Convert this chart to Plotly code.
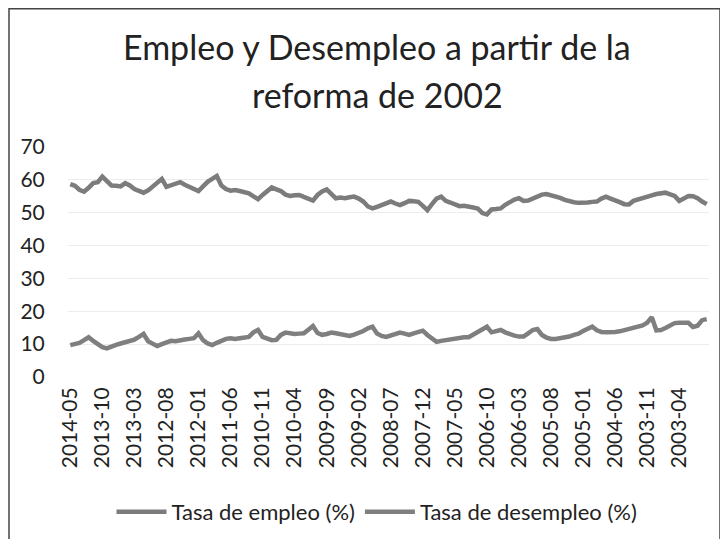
import pandas as pd
import plotly.graph_objects as go

# Monthly categories, newest first (2014-05 back to 2002-10)
months = pd.period_range("2002-10", "2014-05", freq="M")[::-1]
categories = [str(p) for p in months]

tasa_empleo = [
    58.7, 58.2, 57.0, 56.4, 57.6, 59.0, 59.3, 61.0, 59.6, 58.3,
    58.2, 58.0, 59.0, 58.3, 57.2, 56.6, 56.1, 56.8, 57.9, 59.2,
    60.3, 57.9, 58.4, 58.8, 59.3, 58.5, 57.9, 57.3, 56.6, 58.0,
    59.4, 60.3, 61.2, 58.3, 57.2, 56.7, 56.9, 56.6, 56.2, 55.9,
    55.0, 54.1, 55.4, 56.7, 57.7, 57.1, 56.6, 55.5, 55.1, 55.3,
    55.4, 54.8, 54.3, 53.7, 55.4, 56.5, 57.1, 55.5, 54.4, 54.6,
    54.4, 54.7, 54.9, 54.3, 53.4, 51.9, 51.3, 51.8, 52.3, 52.9,
    53.4, 52.8, 52.3, 52.9, 53.6, 53.5, 53.3, 52.1, 50.8, 52.6,
    54.3, 54.9, 53.6, 53.1, 52.5, 52.0, 52.1, 52.0, 51.6, 51.3,
    49.9, 49.5, 51.0, 51.1, 51.3, 52.4, 53.4, 54.0, 54.4, 53.6,
    53.7, 54.4, 54.9, 55.5, 55.7, 55.4, 55.0, 54.5, 53.9, 53.4,
    53.2, 53.0, 52.9, 53.1, 53.3, 53.4, 54.3, 54.9, 54.3, 53.9,
    53.2, 52.6, 52.5, 53.6, 54.1, 54.4, 54.9, 55.3, 55.7, 56.0,
    56.1, 55.6, 55.1, 53.6, 54.2, 55.1, 55.0, 54.4, 53.4, 52.6,
]

tasa_desempleo = [
    9.7, 10.0, 10.4, 11.2, 12.1, 11.0, 10.0, 9.1, 8.7, 9.4,
    9.8, 10.2, 10.5, 11.0, 11.4, 12.2, 13.1, 10.9, 10.0, 9.4,
    10.0, 10.6, 11.0, 10.9, 11.3, 11.4, 11.6, 11.8, 13.3, 11.2,
    10.2, 9.7, 10.4, 11.0, 11.6, 11.8, 11.6, 11.8, 11.9, 12.2,
    13.6, 14.3, 12.2, 11.6, 11.2, 11.3, 12.8, 13.5, 13.2, 13.1,
    13.2, 13.3, 14.4, 15.5, 13.4, 12.8, 13.1, 13.5, 13.3, 13.1,
    12.8, 12.5, 12.9, 13.4, 14.0, 14.8, 15.3, 13.2, 12.5, 12.2,
    12.7, 13.1, 13.5, 13.2, 12.8, 13.3, 13.7, 14.1, 12.8, 11.8,
    10.7, 11.0, 11.2, 11.4, 11.8, 12.1, 12.1, 12.1, 12.9, 13.8,
    14.7, 15.3, 13.6, 13.9, 14.3, 13.6, 13.0, 12.6, 12.3, 12.3,
    13.3, 14.3, 14.6, 12.8, 12.0, 11.6, 11.6, 11.8, 11.9, 12.3,
    12.8, 13.2, 14.0, 14.8, 15.3, 14.2, 13.7, 13.6, 13.5, 13.7,
    13.9, 14.2, 14.6, 15.1, 15.4, 15.7, 16.5, 18.2, 14.2, 14.3,
    14.9, 15.6, 16.4, 16.5, 16.4, 16.5, 15.2, 15.6, 17.3, 17.6,
]

tick_labels = categories[::7]
y_ticks = [0, 10, 20, 30, 40, 50, 60, 70]

FONT = "Lato, 'Open Sans', sans-serif"
OFF = 8  # page body margin of the html page
W, H = 728 - OFF, 539 - OFF
# plot area in screen pixels, converted to figure pixels
L, R, T, B = 68 - OFF, 709 - OFF, 147 - OFF, 377 - OFF
pw, ph = R - L, B - T

def px(x):
    return (x - OFF - L) / pw

def py(y):
    return (B - (y - OFF)) / ph

fig = go.Figure()
fig.add_trace(go.Scatter(
    x=categories, y=tasa_empleo, mode="lines", name="Tasa de empleo (%)",
    line=dict(color="#7c7c7c", width=4.5),
))
fig.add_trace(go.Scatter(
    x=categories, y=tasa_desempleo, mode="lines", name="Tasa de desempleo (%)",
    line=dict(color="#7f7f7f", width=4.5),
))

fig.update_layout(
    width=W, height=H,
    margin=dict(l=L, r=W - R, t=T, b=H - B, autoexpand=False),
    paper_bgcolor="white", plot_bgcolor="white",
    font=dict(family=FONT, color="#222222"),
    showlegend=True,
    legend=dict(
        orientation="h", x=px(377), xanchor="center", y=py(491), yanchor="top",
        font=dict(size=22, family=FONT, color="#222222"),
        itemwidth=50, bgcolor="rgba(0,0,0,0)",
    ),
    xaxis=dict(
        type="category", range=[-0.5, len(categories) - 0.5],
        tickmode="array", tickvals=tick_labels, ticktext=tick_labels,
        tickangle=-90, tickfont=dict(size=21, family=FONT, color="#222222"),
        showgrid=False, zeroline=False, showline=False, automargin=False,
        ticks="outside", ticklen=1, tickcolor="rgba(0,0,0,0)",
    ),
    yaxis=dict(
        range=[0, 70], tickmode="array", tickvals=y_ticks,
        tickfont=dict(size=21, family=FONT, color="#222222"),
        showgrid=True, gridcolor="#ececec", gridwidth=1,
        zeroline=False, showline=False, automargin=False,
        ticks="outside", ticklen=18, tickcolor="rgba(0,0,0,0)",
    ),
    shapes=[dict(
        type="rect", xref="paper", yref="paper",
        x0=px(9), x1=px(720), y0=py(560), y1=py(8.8),
        line=dict(color="#444444", width=1.5), fillcolor="rgba(0,0,0,0)",
    )],
    annotations=[
        dict(text="Empleo y Desempleo a partir de la", xref="paper", yref="paper",
             x=px(377), y=py(46), xanchor="center", yanchor="middle",
             showarrow=False, font=dict(size=34, family=FONT, color="#222222")),
        dict(text="reforma de 2002", xref="paper", yref="paper",
             x=px(377), y=py(94), xanchor="center", yanchor="middle",
             showarrow=False, font=dict(size=34, family=FONT, color="#222222")),
    ],
)

fig.write_html("out.html")
